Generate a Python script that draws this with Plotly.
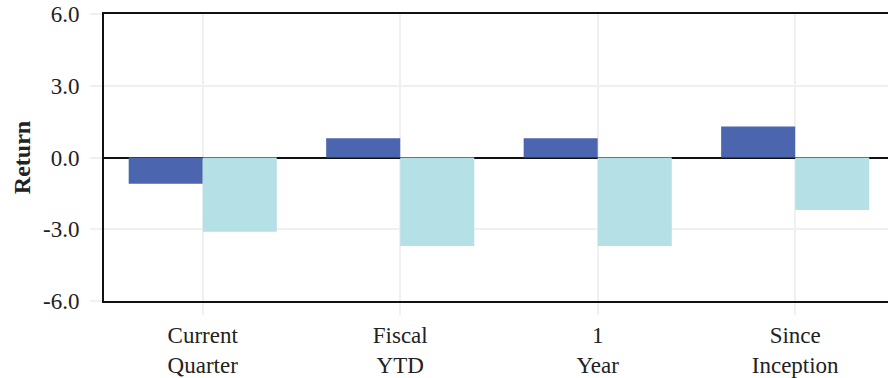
import plotly.graph_objects as go

categories = ["Current<br>Quarter", "Fiscal<br>YTD", "1<br>Year", "Since<br>Inception"]
series_a = [-1.1, 0.8, 0.8, 1.3]
series_b = [-3.1, -3.7, -3.7, -2.2]
y_ticks = [-6, -3, 0, 3, 6]
y_tick_labels = ["-6.0", "-3.0", "0.0", "3.0", "6.0"]

FONT = "Liberation Serif, Times New Roman, serif"

fig = go.Figure()
fig.add_trace(go.Bar(x=list(range(len(categories))), y=series_a, marker=dict(color="#4B66AF", line=dict(width=0)), name="A"))
fig.add_trace(go.Bar(x=list(range(len(categories))), y=series_b, marker=dict(color="#B5E0E5", line=dict(width=0)), name="B"))

fig.update_layout(
    width=888, height=378,
    margin=dict(l=104, r=0, t=14, b=77),
    paper_bgcolor="white", plot_bgcolor="white",
    barmode="group", bargap=0.25, bargroupgap=0,
    showlegend=False,
    font=dict(family=FONT, size=23, color="#222222"),
)
fig.update_xaxes(
    tickmode="array", tickvals=list(range(len(categories))), ticktext=categories,
    range=[-0.5, 3.47],
    showgrid=True, gridcolor="#F0F0F0", gridwidth=1.5,
    ticks="outside", ticklen=12, tickcolor="#F0F0F0", tickwidth=1.5,
    showline=True, linecolor="#111111", linewidth=2, mirror=True,
    tickfont=dict(family=FONT, size=23, color="#222222"),
)
fig.update_yaxes(
    range=[-6, 6], tickmode="array", tickvals=y_ticks, ticktext=y_tick_labels,
    showgrid=True, gridcolor="#F0F0F0", gridwidth=1.5,
    ticks="outside", ticklen=12, tickcolor="#F0F0F0", tickwidth=1.5,
    ticklabelstandoff=6,
    showline=True, linecolor="#111111", linewidth=2, mirror=False,
    zeroline=True, zerolinecolor="#111111", zerolinewidth=2,
    tickfont=dict(family=FONT, size=23, color="#222222"),
    title=dict(text="<b>Return</b>", font=dict(family=FONT, size=24, color="#222222"), standoff=6),
)

fig.write_html("out.html", config={"displayModeBar": False},
               post_script="document.body.style.margin='0';document.body.style.padding='0';")
